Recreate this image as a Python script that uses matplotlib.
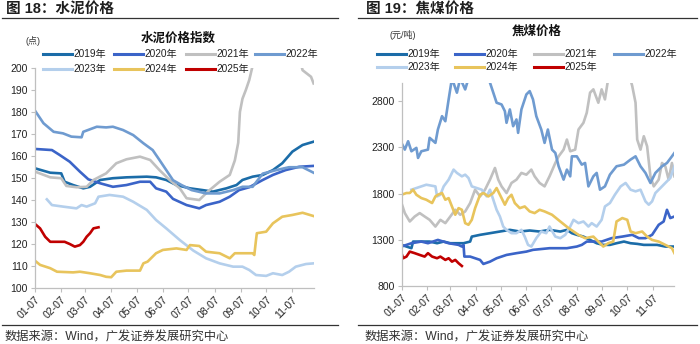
import matplotlib
matplotlib.use('Agg')
import matplotlib.pyplot as plt
from matplotlib.lines import Line2D

plt.rcParams['font.family'] = ['Liberation Sans', 'Noto Sans CJK SC']

W, H = 700, 344

# x axis: days counted from Jan 7
tick_days = [0, 31, 59, 90, 120, 151, 181, 212, 243, 273, 304]
tick_labels = ['01-07', '02-07', '03-07', '04-07', '05-07', '06-07',
               '07-07', '08-07', '09-07', '10-07', '11-07']

years = ['2019年', '2020年', '2021年', '2022年', '2023年', '2024年', '2025年']
colors = ['#1b6ca8', '#3b64c8', '#c0c0c0', '#6f9bd0', '#b4cfec', '#e8c45c', '#c00000']

# cement price index (points)
cement_2019_x = [0, 18, 31, 35, 45, 57, 65, 77, 92, 108, 132, 143, 155, 167, 183, 198, 210, 226, 238, 245, 257, 269, 281, 292, 304, 316, 329]
cement_2019_y = [154.4, 152.4, 152.1, 148.3, 146.8, 145.3, 146, 149.1, 149.9, 150.3, 150.6, 150.3, 149.1, 146.8, 145.3, 144.5, 143.8, 145.3, 146.8, 149.1, 150.6, 151.4, 153.6, 156.7, 162, 165, 166.5]
cement_2020_x = [0, 20, 29, 41, 53, 63, 77, 92, 108, 124, 136, 143, 155, 163, 179, 194, 202, 218, 230, 241, 253, 269, 281, 296, 312, 329]
cement_2020_y = [163.2, 162.7, 160.5, 157.4, 152.9, 149.4, 147.6, 146, 146.8, 148.3, 148.3, 145.3, 143.8, 140.5, 137.7, 136.2, 137.7, 139.2, 141.5, 144.5, 145.8, 149.1, 151.4, 153.6, 155.1, 155.5]
cement_2021_x = [0, 18, 31, 37, 49, 61, 69, 84, 96, 108, 124, 136, 147, 159, 171, 179, 194, 204, 218, 230, 236, 240, 242, 245, 249, 253, 257, 265, 280, 300, 312, 316, 326, 329]
cement_2021_y = [152.9, 150.3, 149.9, 146.4, 145.8, 146, 149.1, 152.1, 156.7, 158.5, 159.7, 158.2, 153.6, 149.1, 145.3, 140.8, 140, 143.8, 148.3, 151.4, 158, 166, 180, 186, 190, 194.5, 201, 215, 235, 225, 205, 199, 196, 193]
cement_2022_x = [0, 10, 22, 33, 43, 55, 57, 73, 84, 92, 104, 116, 128, 139, 147, 155, 163, 173, 185, 202, 218, 234, 245, 257, 269, 285, 300, 316, 329]
cement_2022_y = [180.6, 174.9, 171, 170.3, 168.8, 168.5, 171, 173.3, 173, 173.3, 171.8, 169.5, 165.8, 162.7, 158.2, 153.6, 149, 146.8, 144.5, 143, 143, 144.5, 146, 146, 152, 153.6, 154.9, 154.9, 152.4]
cement_2023_x = [14, 20, 33, 49, 55, 61, 71, 75, 88, 104, 116, 132, 143, 155, 171, 187, 202, 218, 234, 245, 253, 261, 273, 281, 292, 300, 308, 320, 329]
cement_2023_y = [140.3, 137.7, 137, 136.2, 137.7, 137, 138.5, 141.5, 142.3, 141.5, 139.2, 135.5, 130.9, 127.1, 121.8, 117, 113.5, 111.2, 109.7, 109.7, 108.2, 105.9, 105.5, 106.7, 105.9, 107.4, 109.7, 110.9, 111.2]
cement_2024_x = [0, 6, 18, 26, 45, 53, 65, 77, 84, 90, 96, 108, 124, 128, 133, 143, 151, 167, 179, 183, 194, 202, 218, 230, 236, 257, 259, 261, 262, 273, 281, 292, 304, 316, 329]
cement_2024_y = [112.4, 110.5, 109, 107.4, 107.1, 107.4, 106.7, 105.9, 105.1, 104.9, 107.4, 107.9, 107.9, 111.2, 112, 115.8, 117.3, 118, 117.3, 119.5, 119.1, 116.5, 115.8, 113.5, 115.8, 115.8, 115, 121.8, 124.9, 125.6, 129.4, 132.4, 133.2, 134.2, 132.7]
cement_2025_x = [0, 6, 12, 18, 35, 41, 47, 53, 57, 61, 65, 69, 75]
cement_2025_y = [129.1, 127.1, 123.3, 121, 121, 120, 118.8, 119.5, 121, 123.3, 124.9, 127.1, 127.6]

# coking coal price (yuan/ton)
coal_2019_x = [0, 6, 12, 14, 22, 34, 43, 51, 59, 67, 75, 83, 85, 95, 107, 119, 131, 143, 155, 167, 179, 192, 200, 206, 212, 220, 228, 236, 244, 252, 260, 269, 277, 285, 293, 301, 309, 319, 330]
coal_2019_y = [1243, 1225, 1207, 1279, 1279, 1279, 1261, 1279, 1261, 1261, 1261, 1279, 1333, 1352, 1370, 1388, 1406, 1388, 1399, 1388, 1406, 1388, 1406, 1370, 1352, 1333, 1297, 1261, 1243, 1243, 1261, 1279, 1261, 1254, 1243, 1243, 1243, 1225, 1225]
coal_2020_x = [0, 12, 24, 32, 44, 57, 69, 73, 75, 76, 83, 95, 99, 107, 115, 127, 139, 151, 159, 179, 200, 212, 218, 224, 232, 242, 254, 267, 279, 287, 295, 303, 311, 317, 321, 325, 330]
coal_2020_y = [1225, 1261, 1279, 1261, 1297, 1261, 1243, 1225, 1243, 1116, 1116, 1080, 1036, 1061, 1098, 1134, 1153, 1170, 1189, 1207, 1207, 1225, 1243, 1279, 1279, 1279, 1316, 1333, 1352, 1316, 1316, 1352, 1461, 1497, 1624, 1534, 1551]
coal_2021_x = [0, 4, 10, 16, 22, 28, 34, 41, 47, 53, 59, 65, 71, 77, 83, 89, 95, 101, 107, 113, 117, 121, 127, 133, 139, 145, 151, 157, 161, 167, 173, 179, 186, 190, 196, 200, 204, 210, 214, 220, 224, 228, 232, 238, 242, 246, 250, 256, 265, 275, 279, 283, 285, 289, 293, 297, 301, 305, 311, 315, 319, 323, 327, 330]
coal_2021_y = [1697, 1588, 1497, 1551, 1588, 1551, 1515, 1442, 1515, 1479, 1551, 1624, 1570, 1606, 1697, 1842, 1769, 1842, 1951, 2078, 1951, 1878, 1806, 1915, 1951, 2024, 2005, 2060, 1987, 1915, 1878, 1987, 2132, 2204, 2277, 2386, 2259, 2277, 2495, 2568, 2677, 2895, 2931, 2786, 2931, 2822, 3050, 3200, 3300, 3100, 2967, 2786, 2386, 2277, 2422, 2313, 1987, 1878, 1951, 2132, 2096, 1951, 2132, 1987]
coal_2022_x = [0, 4, 8, 12, 18, 20, 24, 32, 34, 41, 44, 49, 53, 57, 61, 67, 71, 77, 81, 95, 107, 111, 115, 121, 125, 127, 131, 135, 139, 141, 145, 151, 155, 159, 163, 169, 173, 177, 182, 186, 190, 196, 200, 204, 206, 212, 218, 222, 226, 232, 236, 240, 246, 252, 260, 269, 277, 283, 289, 295, 301, 307, 315, 321, 327, 330]
coal_2022_y = [2350, 2277, 2368, 2259, 2296, 2187, 2259, 2277, 2405, 2350, 2495, 2640, 2585, 2822, 3050, 2895, 3050, 2930, 3050, 3150, 3003, 2895, 2786, 2767, 2694, 2568, 2713, 2531, 2604, 2459, 2713, 2876, 2912, 2822, 2640, 2495, 2350, 2495, 2277, 2241, 2096, 1951, 2060, 1987, 2204, 2204, 2114, 2132, 1878, 1987, 2024, 1842, 1878, 2005, 2096, 2114, 2169, 2204, 2096, 2024, 1915, 2024, 2096, 2132, 2204, 2241]
coal_2023_x = [12, 18, 30, 41, 43, 47, 51, 57, 63, 67, 73, 77, 81, 85, 91, 97, 103, 107, 111, 115, 119, 123, 127, 133, 139, 145, 149, 153, 157, 163, 169, 175, 179, 186, 192, 198, 204, 208, 214, 220, 226, 230, 236, 242, 246, 252, 258, 265, 271, 277, 283, 289, 295, 299, 303, 307, 313, 319, 325, 330]
coal_2023_y = [1842, 1860, 1896, 1878, 1769, 1787, 1878, 1951, 2060, 2024, 1987, 2005, 1969, 1878, 1860, 1842, 1769, 1842, 1733, 1624, 1551, 1442, 1406, 1370, 1370, 1406, 1333, 1243, 1225, 1316, 1388, 1370, 1442, 1333, 1316, 1352, 1442, 1515, 1479, 1497, 1442, 1479, 1442, 1515, 1660, 1697, 1787, 1878, 1915, 1842, 1824, 1842, 1715, 1679, 1715, 1806, 1860, 1915, 1969, 2096]
coal_2024_x = [0, 6, 10, 14, 18, 24, 30, 37, 41, 44, 49, 53, 57, 61, 65, 69, 73, 77, 81, 85, 89, 95, 99, 105, 111, 115, 119, 125, 129, 133, 137, 143, 149, 155, 161, 167, 173, 182, 192, 202, 214, 222, 232, 238, 244, 250, 256, 260, 267, 273, 277, 283, 291, 297, 303, 311, 319, 327, 330]
coal_2024_y = [1787, 1806, 1806, 1842, 1787, 1751, 1733, 1697, 1769, 1787, 1806, 1733, 1751, 1660, 1570, 1642, 1624, 1479, 1461, 1515, 1642, 1787, 1806, 1769, 1806, 1860, 1787, 1679, 1751, 1787, 1697, 1642, 1660, 1606, 1588, 1624, 1606, 1570, 1497, 1425, 1352, 1316, 1333, 1279, 1225, 1261, 1279, 1497, 1534, 1515, 1388, 1370, 1388, 1333, 1297, 1279, 1243, 1207, 1153]
coal_2025_x = [0, 2, 6, 10, 16, 22, 28, 32, 37, 43, 47, 53, 57, 61, 65, 69, 73]
coal_2025_y = [1153, 1098, 1116, 1170, 1153, 1134, 1116, 1153, 1116, 1098, 1116, 1080, 1098, 1061, 1080, 1044, 1014]

cement = [(cement_2019_x, cement_2019_y), (cement_2020_x, cement_2020_y),
          (cement_2021_x, cement_2021_y), (cement_2022_x, cement_2022_y),
          (cement_2023_x, cement_2023_y), (cement_2024_x, cement_2024_y),
          (cement_2025_x, cement_2025_y)]
coal = [(coal_2019_x, coal_2019_y), (coal_2020_x, coal_2020_y),
        (coal_2021_x, coal_2021_y), (coal_2022_x, coal_2022_y),
        (coal_2023_x, coal_2023_y), (coal_2024_x, coal_2024_y),
        (coal_2025_x, coal_2025_y)]


def fx(px):
    return px / W


def fy(py):
    return 1 - py / H


fig = plt.figure(figsize=(7, 3.44), dpi=100)
fig.patch.set_facecolor('white')


def panel(left, top, right, bottom, series, ylim, yticks):
    ax = fig.add_axes([fx(left), fy(bottom), fx(right - left), (bottom - top) / H])
    for (xs, ys), c in zip(series, colors):
        ax.plot(xs, ys, color=c, lw=1.9, solid_joinstyle='round')
    ax.set_xlim(0, 329.5)
    ax.set_ylim(*ylim)
    ax.set_yticks(yticks)
    ax.set_xticks(tick_days)
    ax.set_xticklabels(tick_labels, rotation=45, ha='right', rotation_mode='anchor')
    for s in ['top', 'right']:
        ax.spines[s].set_visible(False)
    for s in ['left', 'bottom']:
        ax.spines[s].set_color('#bfbfbf')
        ax.spines[s].set_linewidth(0.9)
    ax.tick_params(axis='both', direction='out', length=3, width=0.8, color='#bfbfbf',
                   labelsize=7.5, labelcolor='#222222', pad=2)
    return ax


def legend(rows_y, col_x):
    for i, (lab, c) in enumerate(zip(years, colors)):
        y = rows_y[i // 4]
        x = col_x[i % 4]
        fig.add_artist(Line2D([fx(x), fx(x + 29)], [fy(y), fy(y)], color=c, lw=2.2))
        fig.text(fx(x + 30), fy(y), lab, fontsize=7.3, va='center', ha='left', color='#222222')


def header(x0, x1, title_x, text, subtitle, sub_x, sub_y, unit, unit_x, unit_y):
    fig.text(fx(title_x), fy(9), text, fontsize=10.5, fontweight='bold', va='center', ha='left',
             color='#1f1f1f')
    fig.add_artist(Line2D([fx(x0), fx(x1)], [fy(18), fy(18)], color='#333333', lw=0.9))
    fig.text(fx(sub_x), fy(sub_y), subtitle, fontsize=9, fontweight='bold', va='center',
             ha='center', color='#111111')
    fig.text(fx(unit_x), fy(unit_y), unit, fontsize=6.5, va='center', ha='left', color='#333333')
    fig.add_artist(Line2D([fx(x0), fx(x1)], [fy(325), fy(325)], color='#333333', lw=0.9))
    fig.text(fx(title_x - 1), fy(337), '数据来源：Wind，广发证券发展研究中心', fontsize=8.8,
             va='center', ha='left', color='#333333')


# left: cement
panel(35, 68, 314, 288, cement, (100, 200), list(range(100, 201, 10)))
header(2, 338, 6, '图 18：水泥价格', '水泥价格指数', 178, 39, '(点)', 26, 41)
legend([54, 69], [43, 114, 186, 255])

# right: coking coal
panel(401.5, 83, 674, 285.7, coal, (800, 3000), [800, 1300, 1800, 2300, 2800])
header(358, 697, 366, '图 19：焦煤价格', '焦煤价格', 537, 32, '(元/吨)', 390, 35)
legend([54, 67], [377, 455, 534, 614])

fig.savefig('out.png', dpi=100, facecolor='white')
